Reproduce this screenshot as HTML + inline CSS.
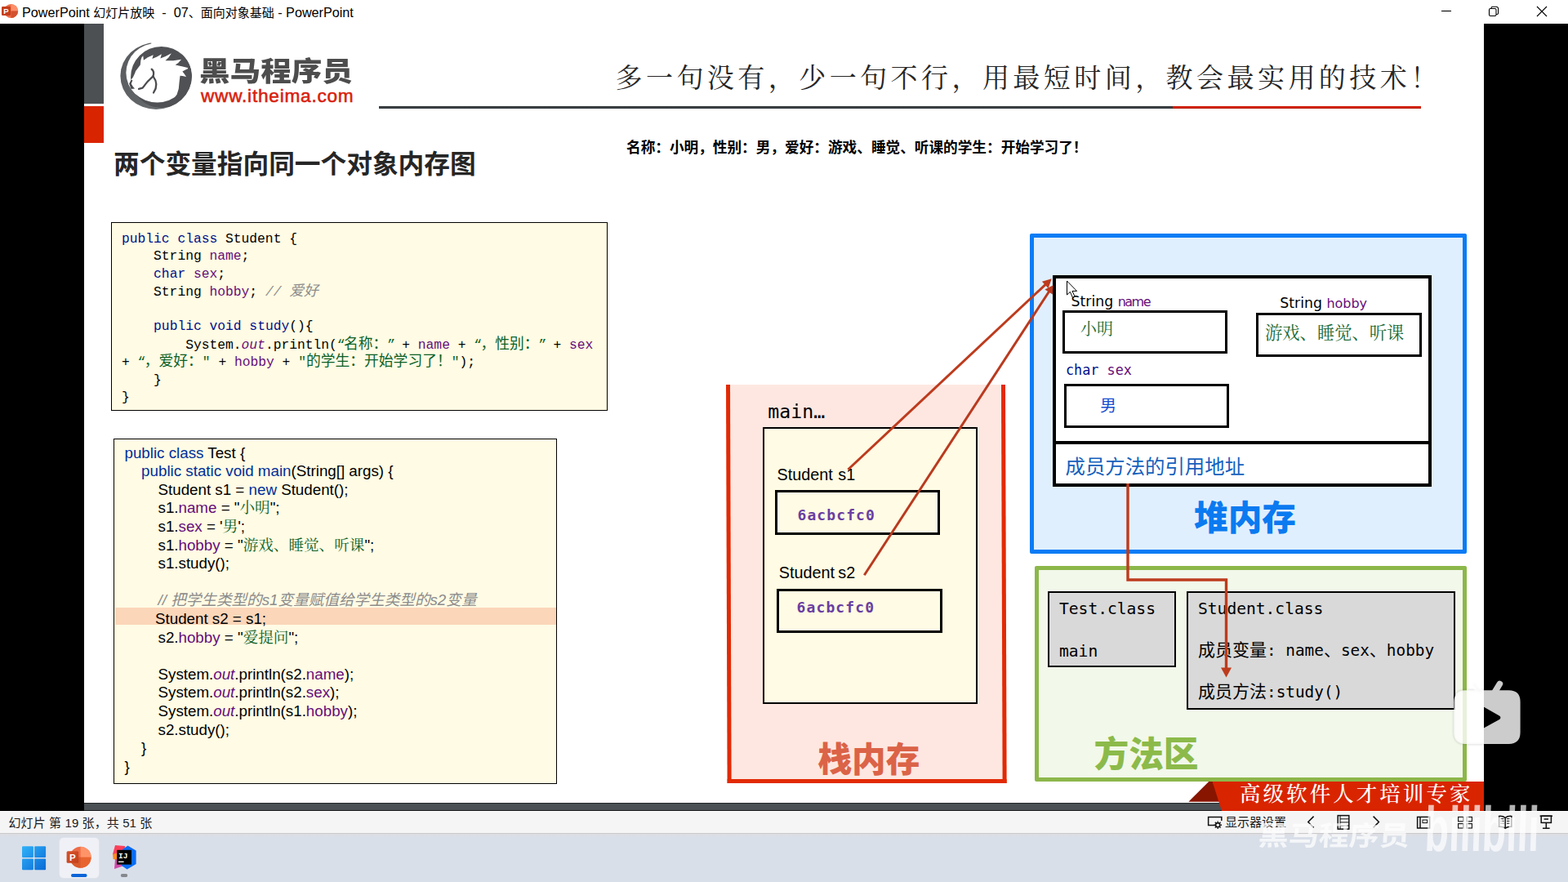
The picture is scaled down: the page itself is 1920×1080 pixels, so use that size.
<!DOCTYPE html>
<html lang="zh-CN">
<head>
<meta charset="utf-8">
<title>PowerPoint 幻灯片放映 - 07、面向对象基础 - PowerPoint</title>
<style>
*{box-sizing:border-box;margin:0;padding:0;text-spacing-trim:space-all}
html,body{width:1920px;height:1080px;overflow:hidden;background:#000}
body{position:relative;font-family:"Liberation Sans","Noto Sans CJK SC",sans-serif;color:#000}
.abs{position:absolute}
.t{position:absolute;white-space:pre;line-height:1}
.sans{font-family:"Liberation Sans","Noto Sans CJK SC",sans-serif}
.hei{font-family:"Liberation Sans","Noto Sans CJK SC",sans-serif}
.song{font-family:"Liberation Serif","Noto Serif CJK SC",serif}
.mono{font-family:"Liberation Mono","Noto Sans CJK SC",monospace}
.dmono{font-family:"DejaVu Sans Mono","Noto Sans CJK SC",monospace}
.dsans{font-family:"DejaVu Sans","Noto Sans CJK SC",sans-serif}
#titlebar{left:0;top:0;width:1920px;height:29px;background:#fff}
#slide{left:103px;top:29px;width:1714px;height:954px;background:#fff;overflow:hidden}
#botbar{left:103px;top:983px;width:1394px;height:10px;background:#4a5054;border-top:1px solid #26282a;border-bottom:1px solid #1c1d1e}
#statusbar{left:0;top:993px;width:1920px;height:27px;background:#f5f5f5;border-top:1px solid #fdfdfd}
#taskbar{left:0;top:1020px;width:1920px;height:60px;background:linear-gradient(180deg,#c9c9cc 0,#c9c9cc 1px,#dddde3 1.5px,#dadee7 4px,#d9dfe9 6px,#d9dfe9 100%)}
/* code */
.kw{color:#00108a}
.fld{color:#660e7a}
.str{color:#0b6125}
.cmt{color:#8c8c8c;font-style:italic}
.box{position:absolute;border:1px solid #000;background:#fffbe4}

#code1{left:136px;top:272px;width:608px;height:230.5px}
#code1 .l{position:absolute;left:12px;white-space:pre;line-height:22px;height:22px;font-family:"Liberation Mono","Noto Sans CJK SC",monospace;font-size:16.3px;color:#000}
#code1 .c{font-family:"Liberation Sans","Noto Sans CJK SC",sans-serif;font-size:17.8px;line-height:0}
#code1 i{font-style:italic}
#code1 .q{letter-spacing:-1.6px}

#code2{left:139px;top:537px;width:543px;height:422.5px}
#code2 .l{position:absolute;white-space:pre;line-height:22px;height:22px;font-family:"Liberation Sans","Noto Serif CJK SC",sans-serif;font-size:18.75px;color:#000}
#code2 .kw{color:#002f99}
#code2 .c{font-family:"Liberation Serif","Noto Serif CJK SC",serif;font-size:18.6px;line-height:0;color:#0b6125}
#code2 .cm{font-family:"Liberation Sans","Noto Sans CJK SC",sans-serif;font-size:18.6px;line-height:0}
#code2 i{font-style:italic}
#code2 .hl{position:absolute;left:1px;top:206.4px;width:540px;height:20.6px;background:#fbd6b9}

/* diagram */
.bx{position:absolute;border:3px solid #000}
#stack{left:889px;top:470.5px;width:342px;height:488.2px;background:#fee7e1;border:solid #e22a05;border-width:0 5px 5px 5px;transform:skewX(0.19deg);transform-origin:0 0}
#frame{left:934px;top:523px;width:262.5px;height:339px;border:2px solid #000;background:#fffbe4}
#heap{left:1261px;top:285.5px;width:534.8px;height:392.5px;border:5px solid #0a7cf5;background:#e0effd;border-radius:2px}
#obj{left:1289px;top:337px;width:464px;height:259px;border:4px solid #000;background:#fff}
#method{left:1267px;top:693px;width:529px;height:264px;border:5px solid #8cb74a;background:#f2f8ea;border-radius:2px}
.cls{position:absolute;border:2px solid #000;background:#d9d9d9}
.big{font-family:"Liberation Sans","Noto Sans CJK SC",sans-serif;font-weight:900}
</style>
</head>
<body>
<div id="titlebar" class="abs"></div>
<div id="slide" class="abs"></div>
<div id="botbar" class="abs"></div>
<div id="statusbar" class="abs"></div>
<div id="taskbar" class="abs"></div>

<!-- ===== title bar ===== -->
<svg class="abs" style="left:0;top:0" width="30" height="29" viewBox="0 0 30 29">
  <circle cx="13.5" cy="13.5" r="8.6" fill="#ed6c47"/>
  <path d="M13.5 4.9 A8.6 8.6 0 0 1 22.1 13.5 L13.5 13.5 Z" fill="#ff8f6b"/>
  <path d="M13.5 13.5 L22.1 13.5 A8.6 8.6 0 0 1 13.5 22.1 Z" fill="#d35230"/>
  <rect x="2" y="8" width="11" height="11" rx="1.2" fill="#c43e1c"/>
  <text x="7.5" y="17" font-family="Liberation Sans, sans-serif" font-weight="700" font-size="9.5" text-anchor="middle" fill="#fff">P</text>
</svg>
<div class="t sans" id="ttl" style="left:27px;top:6.8px;font-size:16.2px;line-height:16px">PowerPoint <span style="font-size:15px;line-height:0">幻灯片放映</span>  -  07<span style="font-size:15px;line-height:0">、面向对象基础</span> - PowerPoint</div>
<svg class="abs" style="left:1740px;top:0" width="180" height="29" viewBox="0 0 180 29" fill="none" stroke="#000" stroke-width="1.1">
  <path d="M25 13.5 H37"/>
  <rect x="83.5" y="10.5" width="8.5" height="9" rx="1.5"/>
  <path d="M86 10.5 V10 a1.8 1.8 0 0 1 1.8 -1.8 H92 a2.6 2.6 0 0 1 2.6 2.6 V16 a1.5 1.5 0 0 1 -1.5 1.5 H92"/>
  <path d="M142 8 L154 20 M154 8 L142 20"/>
</svg>


<!-- ===== slide header ===== -->
<div class="abs" style="left:103px;top:29px;width:24px;height:98px;background:#4c5053"></div>
<div class="abs" style="left:103px;top:130px;width:24px;height:45px;background:#d92400"></div>
<svg class="abs" style="left:140px;top:46px" width="104" height="94" viewBox="0 0 1195 1080">
  <defs>
    <clipPath id="cE1"><ellipse cx="588" cy="540" rx="503" ry="470"/></clipPath>
    <clipPath id="cE2"><ellipse cx="603" cy="495" rx="438" ry="418"/></clipPath>
    <linearGradient id="gRing" x1="0" y1="0" x2="1" y2="1">
      <stop offset="0" stop-color="#57595c"/><stop offset="0.6" stop-color="#626568"/><stop offset="1" stop-color="#74777a"/>
    </linearGradient>
  </defs>
  <ellipse cx="588" cy="540" rx="503" ry="470" fill="url(#gRing)"/>
  <ellipse cx="603" cy="495" rx="438" ry="418" fill="#fff"/>
  <path fill="#fff" fill-rule="evenodd" d="M520 0 H1195 V557 H1094 A432 432 0 0 0 520 149 Z"/>
  <g clip-path="url(#cE1)"><ellipse cx="662" cy="557" rx="432" ry="432" fill="#4f5154"/></g>
  <g clip-path="url(#cE2)">
    <path fill="#fff" d="M205 650 L230 600 L262 560 L290 500 L300 470 L335 425 L365 385 L372 320 L385 280 L405 255 L412 320 L470 280 L548 245 L533 300 L600 270 L665 232 L648 292 L720 265 L803 222 L765 280 L718 325 L830 325 L943 308 L900 355 L858 385 L950 405 L1052 430 L1000 455 L958 478 L985 510 L1012 552 L960 540 L925 538 L915 620 L905 720 L880 800 L830 870 L760 920 L700 950 L590 980 L400 980 L100 850 L100 650 Z"/>
  </g>
  <path fill="#4a4c4f" d="M236 596 L208 648 L236 724 L288 718 L262 690 L238 650 L258 600 Z"/>
  <g fill="none" stroke="#4a4c4f" stroke-width="26" stroke-linecap="round" stroke-linejoin="round">
    <path d="M525 445 C560 470 558 505 545 545"/>
    <path d="M545 545 C480 600 430 660 398 708 L345 722"/>
    <path d="M545 545 C595 610 610 690 552 775"/>
  </g>
</svg>
<div class="t hei" id="logo1" style="left:243.5px;top:70.5px;font-size:33.4px;font-weight:900;letter-spacing:0;transform:scaleX(1.125);transform-origin:0 0;color:#4d4d4d">黑马程序员</div>
<div class="t sans" id="logo2" style="left:246px;top:107.3px;font-size:22.6px;letter-spacing:0.78px;color:#d8200c;-webkit-text-stroke:0.55px #d8200c">www.itheima.com</div>
<div class="t song" id="tag" style="left:753.5px;top:80px;font-size:33px;letter-spacing:4.45px;color:#262626;font-weight:400">多一句没有，少一句不行，用最短时间，教会最实用的技术！</div>
<div class="abs" style="left:464px;top:130px;width:972px;height:3px;background:linear-gradient(180deg,#262a2d,#41464a 50%,#262a2d)"></div>
<div class="abs" style="left:1436px;top:130px;width:304px;height:3px;background:linear-gradient(180deg,#c01000,#de2a00 50%,#9a0c00)"></div>
<div class="t hei" id="h1" style="left:139px;top:186px;font-size:31.7px;font-weight:700;color:#262626">两个变量指向同一个对象内存图</div>
<div class="t hei" id="out" style="left:767px;top:172.6px;font-size:17.65px;font-weight:700;color:#000">名称：小明，性别：男，爱好：游戏、睡觉、听课的学生：开始学习了！</div>

<!-- ===== code box 1 ===== -->
<div class="box" id="code1">
<div class="l" style="top:8.7px"><span class="kw">public class</span> Student {</div>
<div class="l" style="top:30.2px">    String <span class="fld">name</span>;</div>
<div class="l" style="top:51.7px">    <span class="kw">char</span> <span class="fld">sex</span>;</div>
<div class="l" style="top:73.7px">    String <span class="fld">hobby</span>; <span class="cmt">// <span class="c">爱好</span></span></div>
<div class="l" style="top:116.1px">    <span class="kw">public void</span> <span class="kw">study</span>(){</div>
<div class="l" style="top:138.9px">        System.<i class="fld">out</i>.println(<span class="str"><span class="q">“</span><span class="c">名称：</span><span class="q">”</span></span> + <span class="fld">name</span> + <span class="str"><span class="q">“</span><span class="c">，性别：</span><span class="q">”</span></span> + <span class="fld">sex</span></div>
<div class="l" style="top:160.2px">+ <span class="str"><span class="q">“</span><span class="c">，爱好：</span>"</span> + <span class="fld">hobby</span> + <span class="str">"<span class="c">的学生：开始学习了！</span>"</span>);</div>
<div class="l" style="top:181.7px">    }</div>
<div class="l" style="top:203.1px">}</div>
</div>
<!-- ===== code box 2 ===== -->
<div class="box" id="code2">
<div class="hl"></div>
<div class="l" style="left:12.5px;top:5.6px"><span class="kw">public class</span> Test {</div>
<div class="l" style="left:33.1px;top:28.2px"><span class="kw">public static void main</span>(String[] args) {</div>
<div class="l" style="left:53.5px;top:50.8px">Student s1 = <span class="kw">new</span> Student();</div>
<div class="l" style="left:53.5px;top:73.4px">s1.<span class="fld">name</span> = "<span class="c">小明</span>";</div>
<div class="l" style="left:53.5px;top:96.0px">s1.<span class="fld">sex</span> = '<span class="c">男</span>';</div>
<div class="l" style="left:53.5px;top:118.6px">s1.<span class="fld">hobby</span> = "<span class="c">游戏、睡觉、听课</span>";</div>
<div class="l" style="left:53.5px;top:141.2px">s1.study();</div>
<div class="l" style="left:53.5px;top:186.4px"><span class="cmt">// <span class="cm">把学生类型的</span>s1<span class="cm">变量赋值给学生类型的</span>s2<span class="cm">变量</span></span></div>
<div class="l" style="left:50.0px;top:209.0px">Student s2 = s1;</div>
<div class="l" style="left:53.5px;top:231.6px">s2.<span class="fld">hobby</span> = "<span class="c">爱提问</span>";</div>
<div class="l" style="left:53.5px;top:276.8px">System.<i class="fld">out</i>.println(s2.<span class="fld">name</span>);</div>
<div class="l" style="left:53.5px;top:299.4px">System.<i class="fld">out</i>.println(s2.<span class="fld">sex</span>);</div>
<div class="l" style="left:53.5px;top:322.0px">System.<i class="fld">out</i>.println(s1.<span class="fld">hobby</span>);</div>
<div class="l" style="left:53.5px;top:344.6px">s2.study();</div>
<div class="l" style="left:33.1px;top:367.2px">}</div>
<div class="l" style="left:12.5px;top:389.8px">}</div>
</div>

<!-- ===== stack ===== -->
<div class="abs" id="stack"></div>
<div class="t dmono" id="mainlbl" style="left:940.3px;top:492.3px;font-size:23.2px">main…</div>
<div class="abs" id="frame"></div>
<div class="t sans" id="s1lbl" style="left:951.5px;top:572.2px;font-size:19.8px;word-spacing:-2.2px">Student  s1</div>
<div class="bx" style="left:949.2px;top:600px;width:202px;height:55px"></div>
<div class="t dmono" id="a1" style="left:976.5px;top:622px;font-size:18px;font-weight:700;letter-spacing:1.1px;color:#6a3ea1">6acbcfc0</div>
<div class="t sans" id="s2lbl" style="left:953.8px;top:692.2px;font-size:19.8px;word-spacing:-1.2px">Student s2</div>
<div class="bx" style="left:951.1px;top:721.1px;width:203px;height:54px"></div>
<div class="t dmono" id="a2" style="left:975.6px;top:735px;font-size:18px;font-weight:700;letter-spacing:1.1px;color:#6a3ea1">6acbcfc0</div>
<div class="t big" id="zhan" style="left:1001.5px;top:910px;font-size:41.6px;color:#db6347">栈内存</div>
<!-- ===== heap ===== -->
<div class="abs" id="heap"></div>
<div class="abs" id="obj"></div>
<div class="abs" style="left:1289px;top:539.8px;width:464px;height:4px;background:#000"></div>
<div class="t dsans" id="sn1" style="left:1311.6px;top:361.2px;font-size:17.3px">String <span class="fld" style="font-size:16px;letter-spacing:-1.5px">name</span></div>
<div class="bx" style="left:1301.3px;top:380px;width:201.5px;height:53.3px;background:#fff"></div>
<div class="t song" id="xm" style="left:1323px;top:393px;font-size:20px;color:#1b6b35">小明</div>
<div class="t dsans" id="sn2" style="left:1567.3px;top:363px;font-size:17.3px">String <span class="fld" style="font-size:16px">hobby</span></div>
<div class="bx" style="left:1538px;top:383.1px;width:203px;height:53.8px;background:#fff"></div>
<div class="t song" id="hb" style="left:1549px;top:398.3px;font-size:21.3px;color:#1b6b35">游戏、睡觉、听课</div>
<div class="t dmono" id="cs" style="left:1305px;top:445px;font-size:16.8px"><span class="kw">char</span> <span class="fld">sex</span></div>
<div class="bx" style="left:1303.1px;top:470.4px;width:202px;height:53.5px;background:#fff"></div>
<div class="t hei" id="nan" style="left:1347px;top:487px;font-size:20px;color:#1a4fd0">男</div>
<div class="t hei" id="ref" style="left:1304.5px;top:560px;font-size:24.4px;color:#1560bd">成员方法的引用地址</div>
<div class="t big" id="dui" style="left:1462px;top:614px;font-size:41.7px;color:#0b7af0">堆内存</div>
<!-- ===== method area ===== -->
<div class="abs" id="method"></div>
<div class="cls" style="left:1283px;top:724.3px;width:157px;height:93px"></div>
<div class="cls" style="left:1453px;top:724.3px;width:329px;height:145px"></div>
<div class="t dmono" id="m1" style="left:1297px;top:735.7px;font-size:19.6px">Test.class</div>
<div class="t dmono" id="m2" style="left:1297px;top:787.7px;font-size:19.6px">main</div>
<div class="t dmono" id="m3" style="left:1467px;top:735.7px;font-size:19.6px">Student.class</div>
<div class="t dmono" id="m4" style="left:1467px;top:785.7px;font-size:19.35px;line-height:22px"><span style="font-size:21px;line-height:0">成员变量</span>: name<span style="font-size:21px;line-height:0">、</span>sex<span style="font-size:21px;line-height:0">、</span>hobby</div>
<div class="t dmono" id="m5" style="left:1467px;top:836.7px;font-size:19.35px;line-height:22px"><span style="font-size:21px;line-height:0">成员方法</span>:study()</div>
<div class="t big" id="ffq" style="left:1339.5px;top:903px;font-size:42.7px;color:#8cba4a">方法区</div>


<!-- ===== arrows / ribbon / cursor ===== -->
<svg class="abs" style="left:0;top:0;pointer-events:none" width="1920" height="1080" viewBox="0 0 1920 1080">
  <!-- ribbon -->
  <polygon points="1455.3,981.8 1480.2,957 1485,957 1494,981.8" fill="#871500"/>
  <polygon points="1484.5,957 1817,957 1817,993 1496,993" fill="#d92400"/>
  <!-- arrow s2 -> object -->
  <g>
    <line x1="1058.3" y1="704.2" x2="1284.7" y2="356.7" stroke="#b93a1f" stroke-width="3.0"/>
    <polygon points="1289.6,349.2 1288.8,360.6 1279.4,354.5" fill="#b93a1f"/>
  </g>
  <!-- arrow s1 -> object -->
  <g>
    <line x1="1038.4" y1="575.0" x2="1280.5" y2="348.1" stroke="#bd3b1d" stroke-width="3.0"/>
    <polygon points="1287.8,341.3 1283.6,352.9 1275.9,344.7" fill="#bd3b1d"/>
  </g>
  <!-- elbow arrow -->
  <path d="M1381 592 V710 H1501.5 V819" fill="none" stroke="#bd3b1d" stroke-width="3.4"/>
  <polygon points="1495,817.5 1508,817.5 1501.5,829.5" fill="#bd3b1d"/>
  <!-- mouse cursor -->
  <path d="M1306.5 344 L1306.5 361 L1310.4 357.4 L1313.4 364.2 L1316 363 L1313 356.4 L1318.6 356.4 Z" fill="#fff" stroke="#000" stroke-width="1" stroke-linejoin="round"/>
</svg>
<div class="t song" id="rib" style="left:1518px;top:960.3px;font-size:25.5px;letter-spacing:3.05px;color:#fff;font-weight:500">高级软件人才培训专家</div>


<!-- ===== status bar ===== -->
<div class="t sans" id="stt" style="left:10.5px;top:999.5px;font-size:15px;letter-spacing:0.1px;color:#1a1a1a">幻灯片 第 19 张，共 51 张</div>
<svg class="abs" style="left:1470px;top:993px" width="450" height="27" viewBox="1470 993 450 27" fill="none" stroke="#111" stroke-width="1.5">
  <!-- monitor with gear -->
  <path d="M1488 1010.5 H1479.6 V1000.4 H1495.8 V1005"/>
  <circle cx="1491.2" cy="1010.2" r="2.6" stroke-width="1.6"/>
  <g stroke-width="1.4"><path d="M1491.2 1005.4 V1006.8 M1491.2 1013.6 V1015 M1486.4 1010.2 H1487.8 M1494.6 1010.2 H1496 M1487.8 1006.8 L1488.8 1007.8 M1493.6 1012.6 L1494.6 1013.6 M1494.6 1006.8 L1493.6 1007.8 M1488.8 1012.6 L1487.8 1013.6"/></g>
  <!-- prev / next -->
  <path d="M1608.6 999.6 L1601.8 1006.5 L1608.6 1013.4"/>
  <path d="M1681.6 999.6 L1688.4 1006.5 L1681.6 1013.4"/>
  <!-- slide list icon -->
  <rect x="1638.2" y="998.6" width="13.6" height="16.6"/>
  <path d="M1641 998.6 V1015.2 M1641 1002.8 H1651.8 M1641 1006.9 H1651.8 M1641 1011 H1651.8" stroke-width="1"/>
  <!-- normal view -->
  <rect x="1735.6" y="1000.4" width="15" height="13.6"/>
  <path d="M1739 1000.4 V1014"/>
  <rect x="1742" y="1004" width="5.6" height="3.6" stroke-width="1"/>
  <!-- sorter view -->
  <g stroke-width="1.1"><rect x="1785.6" y="1000.4" width="6.4" height="5.4"/><rect x="1796" y="1000.4" width="6.4" height="5.4"/><rect x="1785.6" y="1008.6" width="6.4" height="5.4"/><rect x="1796" y="1008.6" width="6.4" height="5.4"/></g>
  <!-- reading view -->
  <path d="M1843.2 1001.4 C1841 999.6 1838 999.2 1835.6 999.4 V1012.2 C1838 1012 1841 1012.4 1843.2 1014.2 C1845.4 1012.4 1848.4 1012 1850.8 1012.2 V999.4 C1848.4 999.2 1845.4 999.6 1843.2 1001.4 Z M1843.2 1001.4 V1014.2"/>
  <path d="M1837.4 1002.6 H1841.4 M1837.4 1005.4 H1841.4 M1837.4 1008.2 H1841.4 M1845 1002.6 H1849 M1845 1005.4 H1849 M1845 1008.2 H1849" stroke-width="1"/>
  <!-- slideshow -->
  <path d="M1885.6 999.2 H1901"/>
  <rect x="1887.2" y="999.2" width="12.2" height="8.2"/>
  <path d="M1893.3 1007.4 V1014.2 M1889 1014.2 H1897.6 M1890.6 1003 H1896"/>
</svg>
<div class="t sans" id="disp" style="left:1500px;top:999.2px;font-size:15px;color:#1a1a1a">显示器设置</div>
<!-- ===== taskbar ===== -->

<div class="abs" style="left:72.8px;top:1025.5px;width:48.4px;height:49px;border-radius:5px;background:#eff1f7;box-shadow:0 0 0 0.6px #e6e8ee"></div>
<svg class="abs" style="left:20px;top:1028px" width="160" height="50" viewBox="20 1028 160 50">
  <defs>
    <linearGradient id="gw" gradientUnits="userSpaceOnUse" x1="27" y1="1036" x2="56" y2="1065"><stop offset="0" stop-color="#30b2f9"/><stop offset="1" stop-color="#0a6ad6"/></linearGradient>
    <linearGradient id="gp" x1="0" y1="0" x2="1" y2="1"><stop offset="0" stop-color="#d6522c"/><stop offset="1" stop-color="#c2401c"/></linearGradient>
  </defs>
  <!-- windows -->
  <g fill="url(#gw)">
    <rect x="27" y="1036.2" width="13.9" height="13.9" rx="1"/>
    <rect x="42.2" y="1036.2" width="13.9" height="13.9" rx="1"/>
    <rect x="27" y="1051.4" width="13.9" height="13.9" rx="1"/>
    <rect x="42.2" y="1051.4" width="13.9" height="13.9" rx="1"/>
  </g>
  <!-- powerpoint -->
  <circle cx="98.6" cy="1049.8" r="13" fill="#ed6c47"/>
  <path d="M98.6 1036.8 A13 13 0 0 1 111.6 1049.8 H98.6 Z" fill="#ff9468"/>
  <path d="M98.6 1049.8 H111.6 A13 13 0 0 1 98.6 1062.8 Z" fill="#e8642f"/>
  <path d="M85.6 1049.8 A13 13 0 0 0 98.6 1062.8 V1049.8 Z" fill="#d85a2c"/>
  <rect x="81.6" y="1042.2" width="14.6" height="14.6" rx="1.5" fill="url(#gp)"/>
  <text x="88.9" y="1054.2" font-family="Liberation Sans, sans-serif" font-weight="700" font-size="11.5" text-anchor="middle" fill="#fff">P</text>
  <rect x="87" y="1070.1" width="19.6" height="3.8" rx="1.9" fill="#0a64d8"/>
  <!-- intellij -->
  <polygon points="141,1035 153,1036 152,1049 138,1046" fill="#fc3f5a"/>
  <polygon points="138,1046 146,1044 147,1054 138.6,1052" fill="#fd8a1f"/>
  <polygon points="141,1052 150,1052 152,1060 140,1064" fill="#d04aa8"/>
  <polygon points="156.5,1035.5 166.6,1041.5 166.6,1058 155.6,1064.6 149,1060 150,1040" fill="#0b6cf5"/>
  <rect x="143.2" y="1040.8" width="17.8" height="17.8" fill="#000"/>
  <text x="145" y="1050.6" font-family="Liberation Mono, monospace" font-weight="700" font-size="9.5" fill="#fff">IJ</text>
  <rect x="145" y="1054.6" width="6.6" height="1.3" fill="#fff"/>
  <rect x="147.8" y="1070.1" width="8.4" height="3.8" rx="1.9" fill="#85888d"/>
</svg>
<!-- ===== bilibili overlays ===== -->
<svg class="abs" style="left:1770px;top:825px;pointer-events:none" width="100" height="95" viewBox="1770 825 100 95">
  <defs><filter id="tvb" x="-10%" y="-10%" width="120%" height="120%"><feGaussianBlur stdDeviation="1.1"/></filter></defs>
  <path d="M1794.5 845.3 H1847.5 Q1861.6 845.3 1861.6 859.4 V896.8 Q1861.6 910.9 1847.5 910.9 H1794.5 Q1780.4 910.9 1780.4 896.8 V859.4 Q1780.4 845.3 1794.5 845.3 Z M1804.6 837.4 L1813 848" fill="none" stroke="#000" stroke-opacity="0.13" stroke-width="2" filter="url(#tvb)"/>
  <g opacity="0.8" fill="#fff">
    <path fill-rule="evenodd" d="M1794.5 845.3 H1847.5 Q1861.6 845.3 1861.6 859.4 V896.8 Q1861.6 910.9 1847.5 910.9 H1794.5 Q1780.4 910.9 1780.4 896.8 V859.4 Q1780.4 845.3 1794.5 845.3 Z M1811.4 862.6 Q1808 861.4 1808 865 V892.4 Q1808 896 1811.4 894.6 L1836 881 Q1838.8 878.6 1836 876.4 Z"/>
    <path d="M1804.6 837.4 L1813 848" stroke="#fff" stroke-width="7.6" stroke-linecap="round" fill="none"/>
    <path d="M1836.4 837.4 L1830 848" stroke="#fff" stroke-width="7.6" stroke-linecap="round" fill="none"/>
  </g>
</svg>
<div class="t hei" id="wm1" style="left:1540px;top:1006.5px;font-size:33px;font-weight:700;color:#fff;opacity:0.72;transform:scaleX(1.12) skewX(-3deg);transform-origin:0 100%">黑马程序员</div>
<div class="t sans" id="wm2" style="left:1746px;top:977px;font-size:48px;font-weight:700;color:#fff;opacity:0.7;letter-spacing:0.2px;transform:scaleY(1.62) skewX(-3deg);transform-origin:0 0">bilibili</div>

<!--CONTENT-->
</body>
</html>
